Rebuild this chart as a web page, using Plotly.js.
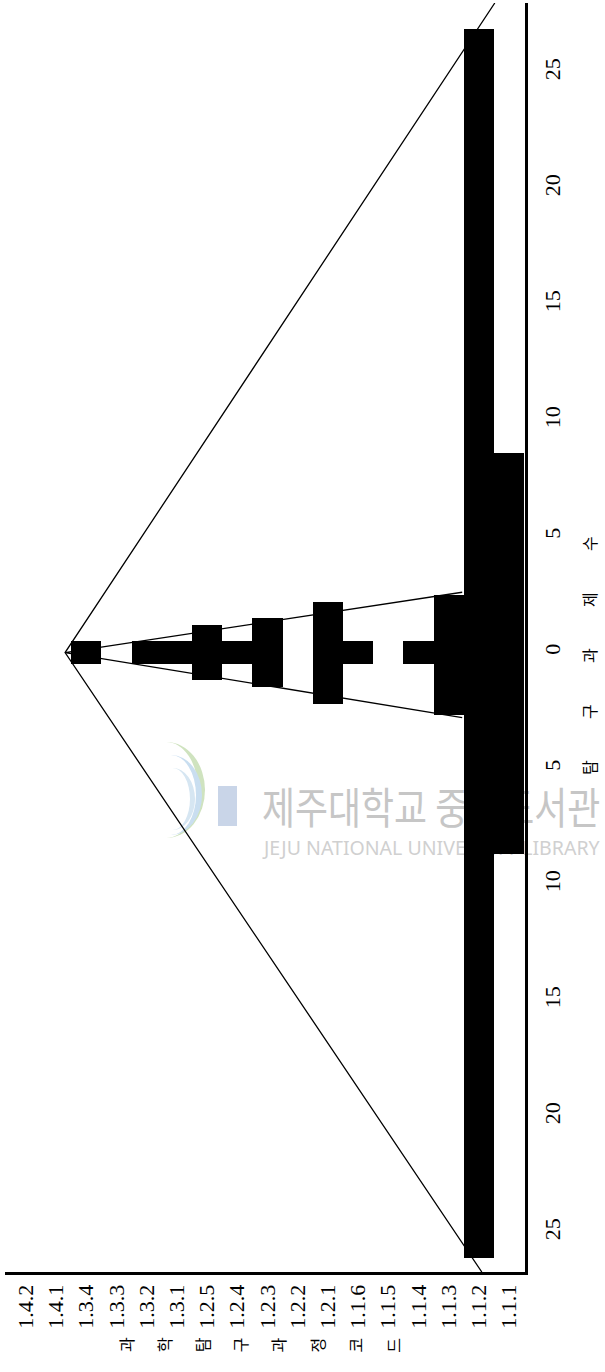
<!DOCTYPE html>
<html><head><meta charset="utf-8">
<script src="https://cdn.plot.ly/plotly-3.0.1.min.js"></script>
<style>
html,body{margin:0;padding:0;background:#fff;}
#wrap{position:relative;width:605px;height:1372px;overflow:hidden;background:#fff;}
#wm{position:absolute;left:0;top:0;width:605px;height:1372px;z-index:0;}
#chart{position:absolute;left:0;top:0;width:605px;height:1372px;z-index:1;}
.wmk{position:absolute;white-space:nowrap;line-height:1;}
.arc{position:absolute;border-radius:50%;border-style:solid;border-color:transparent;}
</style></head><body>
<div id="wrap">
 <div id="wm">
  <div class="arc" style="left:128px;top:742px;width:70px;height:96px;border-width:0 7px 0 0;border-right-color:#cfe3bf;"></div>
  <div class="arc" style="left:140px;top:755px;width:56px;height:80px;border-width:0 6px 0 0;border-right-color:#c9def0;"></div>
  <div class="arc" style="left:150px;top:768px;width:40px;height:62px;border-width:0 5px 0 0;border-right-color:#d6e6f2;"></div>
  <div class="wmk" style="left:218px;top:786px;width:19px;height:40px;background:#c9d5e8;"></div>
  <div id="wmKo" class="wmk" style="left:262px;top:783px;font-family:'Noto Sans CJK KR';font-size:36px;color:#c6c6c6;transform-origin:0 0;">제주대학교 중앙도서관</div>
  <div id="wmEn" class="wmk" style="left:264px;top:838px;font-family:'Noto Sans',sans-serif;font-size:20px;color:#d0d0d0;transform-origin:0 0;">JEJU NATIONAL UNIVERSITY LIBRARY</div>
 </div>
 <div id="chart"></div>
</div>
<script>
// ---- data ----
const categories = ['1.1.1','1.1.2','1.1.3','1.1.4','1.1.5','1.1.6','1.2.1','1.2.2','1.2.3','1.2.4','1.2.5','1.3.1','1.3.2','1.3.3','1.3.4','1.4.1','1.4.2'];
const upperValues = [8.6, 26.9, 2.5, 0.5, 0, 0.5, 2.2, 0, 1.5, 0.5, 1.2, 0.5, 0.5, 0, 0.5, 0, 0];
const lowerValues = [8.7, 26.1, 2.7, 0.5, 0, 0.5, 2.2, 0, 1.5, 0.5, 1.2, 0.5, 0.5, 0, 0.5, 0, 0];
const valueTicks = [-25,-20,-15,-10,-5,0,5,10,15,20,25];
const valueTickLabels = ['25','20','15','10','5','0','5','10','15','20','25'];
// envelope lines (category position, value)
const outerLineCat = [15.53, 1.3, 15.10];
const outerLineVal = [28.0, 0, -26.7];
const innerLineCat = [14.45, 1.3, 14.45];
const innerLineVal = [2.6, 0, -2.8];
const xTitleChars = ['과','학','탐','구','과','정','코','드'];
const yTitleChars = ['탐','구','과','제','수'];

// ---- build ----
const n = categories.length;
const catPos = categories.map((c, i) => n - 1 - i);
const lowerNeg = lowerValues.map(v => -v);

const W = 605, H = 1372;
const M = {l: 5, r: 80, t: 3, b: 100};
const pw = W - M.l - M.r, ph = H - M.t - M.b;
const px2paperX = px => (px - M.l) / pw;
const py2paperY = py => (H - M.b - py) / ph;

const serif = "'Liberation Serif', 'Times New Roman', serif";
const kr = "'Noto Sans CJK KR', sans-serif";

const traces = [
  {type: 'bar', x: catPos, y: upperValues, width: 1, marker: {color: '#000', line: {width: 0}}, hoverinfo: 'skip', showlegend: false},
  {type: 'bar', x: catPos, y: lowerNeg, width: 1, marker: {color: '#000', line: {width: 0}}, hoverinfo: 'skip', showlegend: false},
  {type: 'scatter', mode: 'lines', x: outerLineCat, y: outerLineVal, line: {color: '#000', width: 1.3}, hoverinfo: 'skip', showlegend: false},
  {type: 'scatter', mode: 'lines', x: innerLineCat, y: innerLineVal, line: {color: '#000', width: 1.3}, hoverinfo: 'skip', showlegend: false}
];

const annotations = [];
xTitleChars.forEach((ch, k) => {
  annotations.push({text: ch, xref: 'paper', yref: 'paper', x: px2paperX(126 + 38.1 * k), y: py2paperY(1345),
    xanchor: 'center', yanchor: 'middle', showarrow: false, textangle: -90, font: {family: kr, size: 16, color: '#000'}});
});
yTitleChars.forEach((ch, k) => {
  annotations.push({text: ch, xref: 'paper', yref: 'paper', x: px2paperX(589), y: py2paperY(768 - 56 * k),
    xanchor: 'center', yanchor: 'middle', showarrow: false, textangle: -90, font: {family: kr, size: 16, color: '#000'}});
});

const layout = {
  width: W, height: H,
  margin: M,
  paper_bgcolor: 'rgba(0,0,0,0)', plot_bgcolor: 'rgba(0,0,0,0)',
  barmode: 'relative', bargap: 0,
  showlegend: false,
  xaxis: {
    range: [-0.69, 16.53], tickmode: 'array', tickvals: catPos, ticktext: categories,
    tickangle: -90, ticks: '', showgrid: false, zeroline: false,
    showline: true, linecolor: '#000', linewidth: 3, ticklabelstandoff: 1,
    tickfont: {family: serif, size: 22, color: '#000'}, fixedrange: true
  },
  yaxis: {
    side: 'right', range: [-26.7, 28.0], tickmode: 'array', tickvals: valueTicks, ticktext: valueTickLabels,
    tickangle: -90, ticks: '', showgrid: false, zeroline: false,
    showline: true, linecolor: '#000', linewidth: 3, ticklabelstandoff: 6,
    tickfont: {family: serif, size: 22, color: '#000'}, fixedrange: true
  },
  annotations: annotations
};

// fit the watermark lines inside the page width
function fitWatermark() {
  const ko = document.getElementById('wmKo');
  const en = document.getElementById('wmEn');
  const koW = ko.scrollWidth, enW = en.scrollWidth;
  const koS = Math.min(1, (600 - 262) / koW);
  const enS = Math.min(1, (600 - 264) / enW);
  ko.style.transform = 'scale(' + koS + ',1.2)';
  en.style.transform = 'scale(' + enS + ',1)';
}
fitWatermark();

Plotly.newPlot('chart', traces, layout, {displayModeBar: false, staticPlot: true});
</script>
</body></html>
